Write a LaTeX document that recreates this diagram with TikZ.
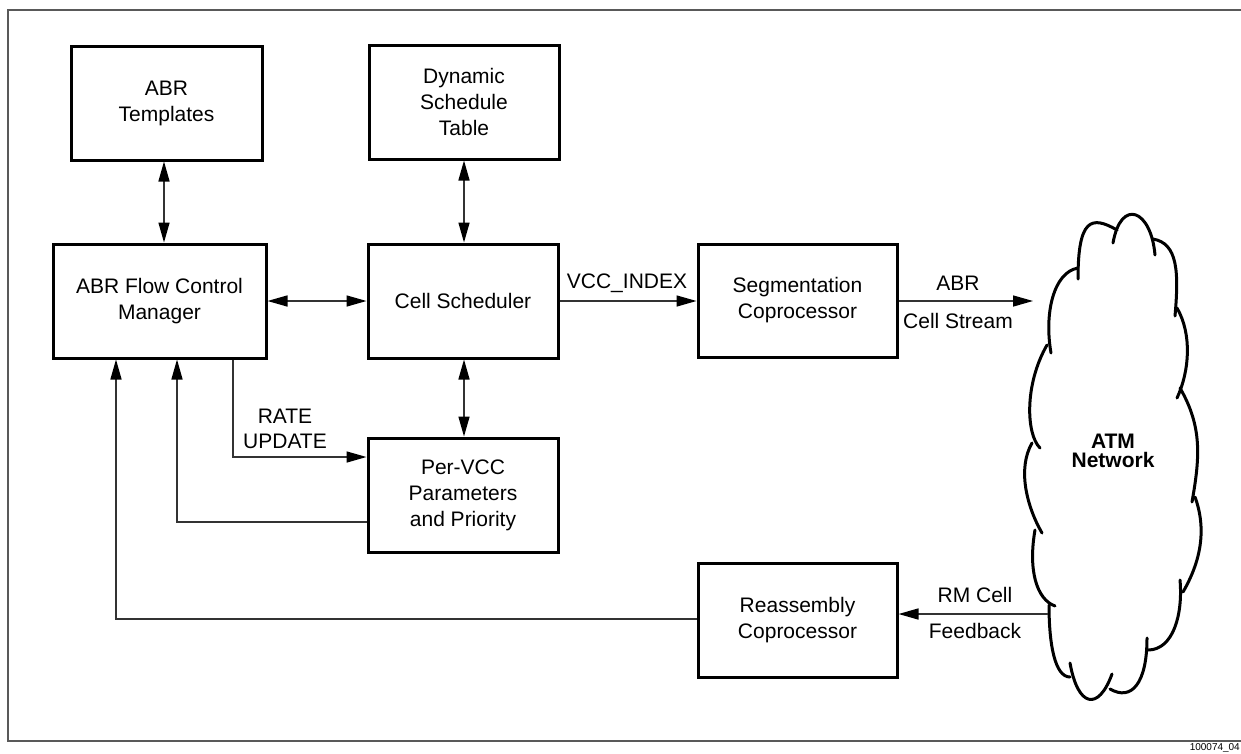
\documentclass[tikz,border=0pt]{standalone}
\usepackage{fontspec}
\newfontfamily\arialf{Liberation Sans}
\usetikzlibrary{arrows.meta}
\newcommand\dgfont{\arialf\fontsize{21}{26}\selectfont}
\newcommand\dgbold{\arialf\bfseries\fontsize{21}{19}\selectfont}
\tikzset{
  box/.style={draw=black, line width=3pt, minimum width=190pt, minimum height=114pt,
    align=center, inner sep=0pt, font=\dgfont},
  con/.style={draw=black!80, line width=1.5pt},
  tipone/.style={-{Triangle[length=20pt,width=11pt,color=black]}},
  tiptwo/.style={{Triangle[length=20pt,width=11pt,color=black]}-{Triangle[length=20pt,width=11pt,color=black]}},
  lab/.style={font=\dgfont, inner sep=0pt, anchor=base},
  lobe/.style={line width=3pt, line cap=round},
  framel/.style={draw=black!65, line width=2pt}
}
\begin{document}
\begin{tikzpicture}[x=1pt,y=1pt]
\useasboundingbox (0,0) rectangle (1241,-753);
\fill[white] (0,0) rectangle (1241,-753);
% frame
\draw[framel] (1241,-10) -- (8,-10) -- (8,-741) -- (1241,-741);
\node[font=\arialf\fontsize{10}{12}\selectfont, inner sep=0pt, anchor=north east] (fig) at (1240,-743) {100074\_04};

% boxes
\node[box, minimum width=191pt] (tmpl) at (166.5,-103) {ABR\\Templates};
\node[box] (dyn) at (464,-102) {Dynamic\\Schedule\\Table};
\node[box, minimum width=213pt] (fcm) at (159.5,-301) {ABR Flow Control\\Manager};
\node[box] (cs) at (463,-301) {Cell Scheduler};
\node[box] (pv) at (463,-495) {Per-VCC\\Parameters\\and Priority};
\node[box, minimum width=199pt, minimum height=113pt] (seg) at (797.5,-300.5) {Segmentation\\Coprocessor};
\node[box, minimum width=199pt] (reas) at (797.5,-620) {Reassembly\\Coprocessor};

% cloud
\draw[lobe] (1078,-279) to[out=90,in=150,out distance=60,in distance=30] (1117,-230);
\draw[lobe] (1113,-243) to[out=80,in=95,distance=46] (1155,-255);
\draw[lobe] (1153,-239) to[out=-10,in=85,out distance=25,in distance=45] (1175,-316);
\draw[lobe] (1177,-308) to[out=-60,in=65,distance=30] (1177,-398);
\draw[lobe] (1180,-388) to[out=-60,in=80,distance=45] (1192,-502);
\draw[lobe] (1195,-497) to[out=-70,in=60,distance=35] (1183,-592);
\draw[lobe] (1180,-580) to[out=-85,in=0,out distance=35,in distance=25] (1148,-650);
\draw[lobe] (1147,-638) to[out=-90,in=-30,out distance=45,in distance=25] (1110,-689);
\draw[lobe] (1070,-663) to[out=-80,in=-110,out distance=45,in distance=40] (1112,-674);
\draw[lobe] (1049,-605) to[out=-90,in=180,out distance=40,in distance=15] (1070,-677);
\draw[lobe] (1035,-530) to[out=-100,in=160,out distance=40,in distance=20] (1055,-606);
\draw[lobe] (1032,-443) to[out=-120,in=120,distance=30] (1042,-533);
\draw[lobe] (1047,-345) to[out=-120,in=135,out distance=45,in distance=20] (1040,-448);
\draw[lobe] (1078,-268) to[out=190,in=100,out distance=25,in distance=40] (1051,-353);
\node[font=\dgbold, align=center, inner sep=0pt] (atm) at (1113,-451) {ATM\\Network};

% helper coordinates
\coordinate (xa) at (164,0);
\coordinate (xb) at (464,0);
\coordinate (ya) at (0,-301);
\coordinate (xr) at (233,0);
\coordinate (yr) at (0,-457);
\coordinate (xp) at (177,0);
\coordinate (yp) at (0,-522);
\coordinate (xq) at (116,0);
\coordinate (yq) at (0,-619);
\coordinate (cloudin) at (1033,-301);
\coordinate (cloudrm) at (1048,-614);

% connectors
\draw[con, tiptwo] (tmpl.south -| xa) -- (fcm.north -| xa);
\draw[con, tiptwo] (dyn.south -| xb) -- (cs.north -| xb);
\draw[con, tiptwo] (cs.south -| xb) -- (pv.north -| xb);
\draw[con, tiptwo] (fcm.east |- ya) -- (cs.west |- ya);
\draw[con, tipone] (cs.east |- ya) -- (seg.west |- ya);
\draw[con, tipone] (seg.east |- ya) -- (cloudin);
\draw[con, tipone] (cloudrm) -- (reas.east |- cloudrm);
\draw[con, tipone] (fcm.south -| xr) |- (pv.west |- yr);
\draw[con, tipone] (pv.west |- yp) -| (fcm.south -| xp);
\draw[con, tipone] (reas.west |- yq) -| (fcm.south -| xq);

% labels
\node[lab] (lvcc) at (627,-288) {VCC\_INDEX};
\node[lab] (labr) at (958,-290) {ABR};
\node[lab] (lcs) at (958,-328) {Cell Stream};
\node[lab] (lrate) at (285,-423) {RATE};
\node[lab] (lupd) at (285,-448) {UPDATE};
\node[lab] (lrm) at (975,-602) {RM Cell};
\node[lab] (lfb) at (975,-638) {Feedback};
\end{tikzpicture}
\end{document}
